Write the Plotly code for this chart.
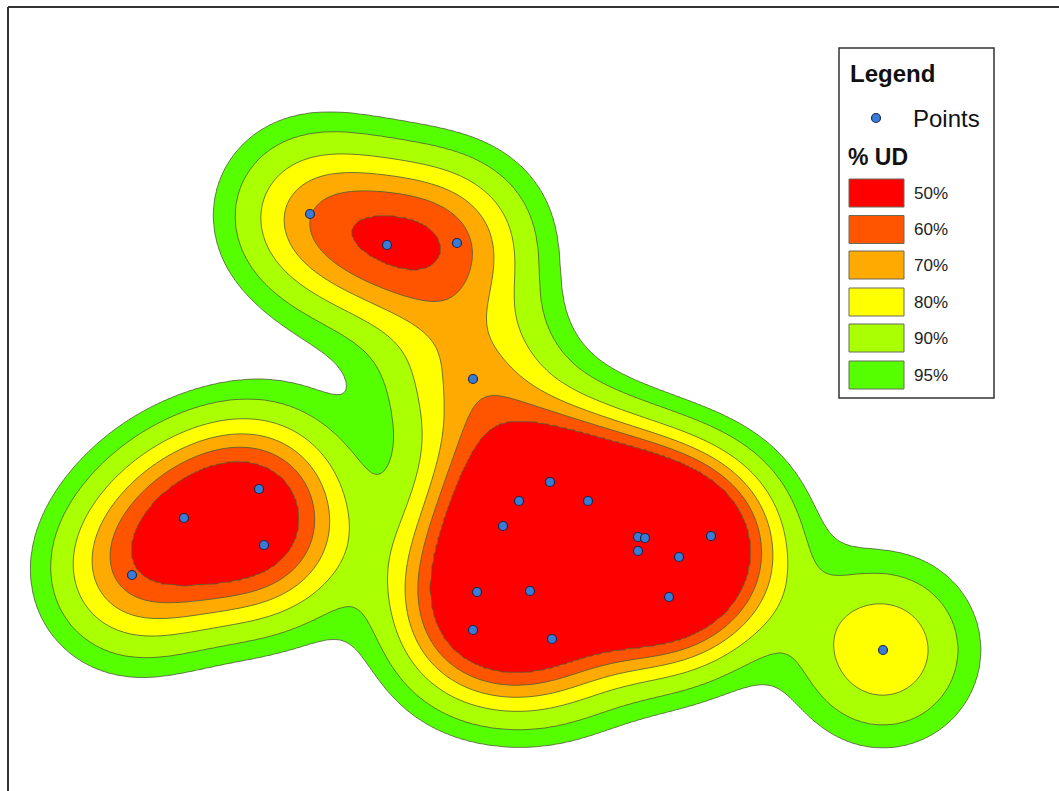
import numpy as np
import plotly.graph_objects as go

# ---- data: observed locations (map/pixel coordinates) and fix counts ----
pts_x = [184, 259, 264, 132, 310, 387, 457, 473, 550, 519, 588, 503, 638, 645,
         711, 638, 679, 477, 530, 669, 473, 552, 883]
pts_y = [518, 489, 545, 575, 214, 245, 243, 379, 482, 501, 501, 526, 537, 538,
         536, 551, 557, 592, 591, 597, 630, 639, 650]
pts_weight = [1.3, 1.3, 1.3, 1.3, 1.2, 1.2, 1.2, 1.2, 1, 1, 1, 1, 1, 1,
              1, 1, 1, 1, 1, 1, 1, 1, 1.3]

ud_levels = [50, 60, 70, 80, 90, 95]
ud_labels = ["50%", "60%", "70%", "80%", "90%", "95%"]
ud_colors = ["#ff0000", "#ff5500", "#ffaa00", "#ffff00", "#aaff00", "#55ff00"]

BANDWIDTH = 60.0

px = np.array(pts_x, float)
py = np.array(pts_y, float)
pw = np.array(pts_weight, float)


def kde(X, Y):
    d = np.zeros_like(X, dtype=float)
    for a, b, w in zip(px, py, pw):
        d += w * np.exp(-((X - a) ** 2 + (Y - b) ** 2) / (2 * BANDWIDTH ** 2))
    return d


# utilisation-distribution thresholds from a large grid
cx = np.arange(-400, 1500, 3.0)
cy = np.arange(-400, 1200, 3.0)
CX, CY = np.meshgrid(cx, cy)
cd = kde(CX, CY).ravel()
srt = np.sort(cd)[::-1]
cum = np.cumsum(srt)
cum /= cum[-1]
thr = [srt[np.searchsorted(cum, p / 100.0)] for p in ud_levels]  # descending

# drawing grid
gx = np.arange(-20, 1090, 2.0)
gy = np.arange(-20, 820, 2.0)
GX, GY = np.meshgrid(gx, gy)
dens = kde(GX, GY)
xp = [0.0] + thr[::-1] + [srt[0] * 1.01]
fp = [6.9, 6, 5, 4, 3, 2, 1, 0]
band = np.interp(dens, xp, fp)

n = 7
cscale = []
for i, c in enumerate(ud_colors + ["#ffffff"]):
    cscale.append([i / n, c])
    cscale.append([(i + 1) / n, c])

fig = go.Figure()
fig.add_trace(go.Contour(
    x=gx, y=gy, z=band,
    contours=dict(start=1, end=7, size=1, coloring="fill"),
    colorscale=cscale, showscale=False,
    line=dict(color="#4f5a3a", width=0.8, smoothing=1.0),
    hoverinfo="skip",
))
fig.add_trace(go.Scatter(
    x=pts_x, y=pts_y, mode="markers",
    marker=dict(size=9, color="#3a7bd8", line=dict(color="#1b2a4a", width=1.2)),
    hoverinfo="skip", showlegend=False,
))

shapes = []
ann = []
shapes.append(dict(type="line", xref="x", yref="y", x0=8, x1=1080, y0=7, y1=7,
                   line=dict(color="#333333", width=2), layer="above"))
shapes.append(dict(type="line", xref="x", yref="y", x0=8, x1=8, y0=7, y1=810,
                   line=dict(color="#333333", width=2), layer="above"))
shapes.append(dict(type="rect", xref="x", yref="y", x0=839, x1=994, y0=48, y1=398,
                   line=dict(color="#333333", width=1.5), fillcolor="white", layer="above"))
shapes.append(dict(type="circle", xref="x", yref="y", x0=871.5, x1=880.5, y0=113.5, y1=122.5,
                   line=dict(color="#1b2a4a", width=1.2), fillcolor="#3a7bd8", layer="above"))
centers = [193, 229.5, 265, 302, 338, 375]
for yc, col, lab in zip(centers, ud_colors, ud_labels):
    shapes.append(dict(type="rect", xref="x", yref="y", x0=849, x1=904, y0=yc - 14, y1=yc + 14,
                       line=dict(color="#6b6b5a", width=1), fillcolor=col, layer="above"))
    ann.append(dict(x=912, y=yc, xref="x", yref="y", text=lab, showarrow=False,
                    xanchor="left", yanchor="middle",
                    font=dict(family="Liberation Sans, Arial", size=17, color="#222222")))
ann.append(dict(x=848, y=73, xref="x", yref="y", text="<b>Legend</b>", showarrow=False,
                xanchor="left", yanchor="middle",
                font=dict(family="Liberation Sans, Arial", size=24, color="#111111")))
ann.append(dict(x=911, y=118, xref="x", yref="y", text="Points", showarrow=False,
                xanchor="left", yanchor="middle",
                font=dict(family="Liberation Sans, Arial", size=24, color="#111111")))
ann.append(dict(x=846, y=157, xref="x", yref="y", text="<b>% UD</b>", showarrow=False,
                xanchor="left", yanchor="middle",
                font=dict(family="Liberation Sans, Arial", size=23, color="#111111")))

fig.update_layout(
    width=1059, height=791,
    margin=dict(l=0, r=0, t=0, b=0),
    paper_bgcolor="white", plot_bgcolor="white",
    xaxis=dict(range=[0, 1059], visible=False, fixedrange=True),
    yaxis=dict(range=[791, 0], visible=False, fixedrange=True),
    shapes=shapes, annotations=ann, showlegend=False,
)
fig.write_html("out.html", config={"displayModeBar": False},
               post_script="document.body.style.margin='0px';")
